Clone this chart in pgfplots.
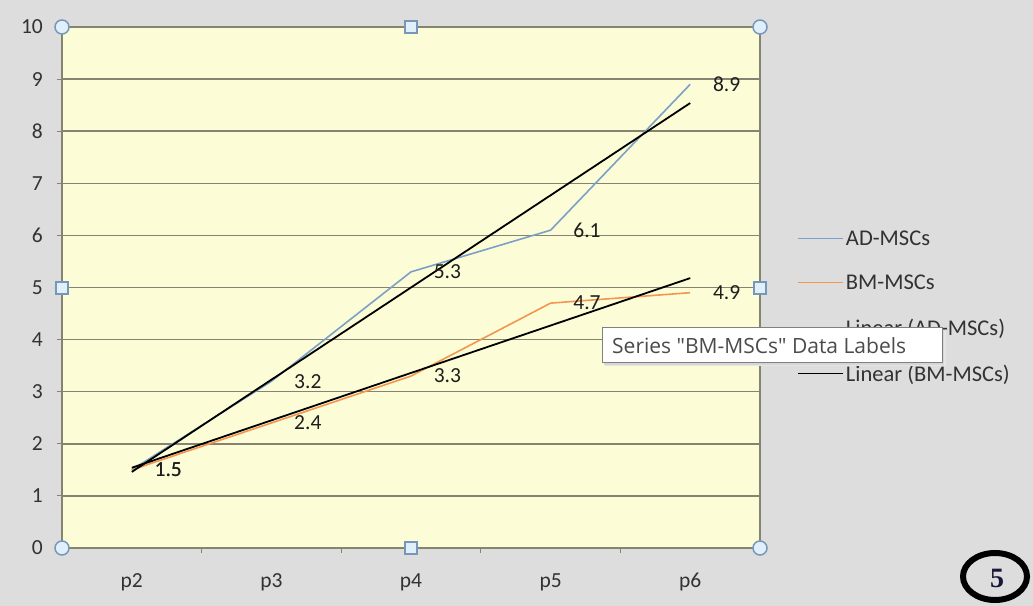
\documentclass[border=0pt]{standalone}
\usepackage{fontspec}
\setmainfont{Carlito}
\newfontfamily\tipfont{Open Sans}
\newfontfamily\numfont{Liberation Serif}
\usepackage{pgfplots}
\pgfplotsset{compat=1.18}
\definecolor{bggray}{RGB}{221,221,221}
\definecolor{plotyellow}{RGB}{252,252,214}
\definecolor{gridc}{RGB}{132,132,112}
\definecolor{adblue}{RGB}{125,160,200}
\definecolor{bmorange}{RGB}{243,150,80}
\definecolor{txt}{RGB}{50,50,50}
\definecolor{lbl}{RGB}{30,30,30}
\definecolor{handlefill}{RGB}{224,240,250}
\definecolor{handledraw}{RGB}{120,150,185}
\definecolor{tiptext}{RGB}{75,75,75}
\begin{document}
\begin{tikzpicture}[x=1bp,y=1bp]
\fill[bggray] (0,0) rectangle (1033,606);
\useasboundingbox (0,0) rectangle (1033,606);
\begin{axis}[
  at={(62bp,58bp)}, anchor=south west,
  scale only axis, width=698bp, height=521bp,
  xmin=0.5, xmax=5.5, ymin=0, ymax=10,
  xtick={1.5,2.5,3.5,4.5}, xticklabels={},
  extra x ticks={1,2,3,4,5},
  extra x tick labels={p2,p3,p4,p5,p6},
  extra x tick style={major tick length=0pt},
  ytick={0,1,...,10},
  xtick pos=left, ytick pos=left,
  tick align=outside,
  major tick length=5bp,
  tick style={gridc, line width=1bp},
  ymajorgrids, major grid style={gridc, line width=1.5bp},
  axis line style={gridc, line width=1.5bp},
  axis background/.style={fill=plotyellow},
  tick label style={font=\fontsize{21.5bp}{25bp}\selectfont, text=txt},
  yticklabel style={inner sep=0pt, xshift=-14bp},
  xticklabel style={inner sep=0pt, anchor=base, yshift=-40bp},
  /pgf/number format/assume math mode=true,
  every node near coord/.append style={anchor=west, xshift=22bp, inner sep=0pt,
     font=\fontsize{21.5bp}{25bp}\selectfont, text=lbl,
     /pgf/number format/fixed, /pgf/number format/precision=1,
     /pgf/number format/fixed zerofill, /pgf/number format/assume math mode=true},
  legend image code/.code={\draw[#1] (0bp,0bp) -- (45bp,0bp);},
  legend cell align=left,
  legend style={at={(axis description cs:1.053,0.4635)}, anchor=west,
     draw=none, fill=none, inner sep=0pt, row sep=24bp,
     font=\fontsize{22.5bp}{26bp}\selectfont, text=txt,
     /tikz/every even column/.append style={column sep=5bp}},
]
\addplot[adblue, line width=1.6bp, nodes near coords] coordinates {(1,1.5) (2,3.2) (3,5.3) (4,6.1) (5,8.9)};
\addplot[bmorange, line width=1.6bp, nodes near coords] coordinates {(1,1.5) (2,2.4) (3,3.3) (4,4.7) (5,4.9)};
\addplot[black, line width=1.8bp] coordinates {(1,1.46) (5,8.54)};
\addplot[black, line width=1.8bp] coordinates {(1,1.54) (5,5.18)};
\legend{AD-MSCs, BM-MSCs, Linear (AD-MSCs), Linear (BM-MSCs)}
\end{axis}
% selection handles
\foreach \p in {(62,579),(760,579),(62,58),(760,58)}
  \filldraw[fill=handlefill, draw=handledraw, line width=1.5bp] \p circle (7);
\foreach \cx/\cy in {411/579,411/58,62/318,760/318}
  \filldraw[fill=handlefill, draw=handledraw, line width=1.5bp] (\cx-6,\cy-6) rectangle (\cx+6,\cy+6);
% tooltip
\fill[black!10] (605,240) rectangle (946,275);
\fill[black!16] (604,241) rectangle (944,276);
\filldraw[fill=white, draw=black!50, line width=1bp] (602,243) rectangle (942,278);
\node[anchor=base west, inner sep=0pt, text=tiptext] at (612,252.5)
  {\tipfont\fontsize{21bp}{24bp}\selectfont Series "BM-MSCs" Data Labels};
% circled 5
\draw[line width=6bp] (995,29.5) ellipse [x radius=32, y radius=23.5];
\node[inner sep=0pt, text={rgb,255:red,25;green,25;blue,55}] at (997,28)
  {\numfont\bfseries\fontsize{28bp}{30bp}\selectfont 5};
\end{tikzpicture}
\end{document}
